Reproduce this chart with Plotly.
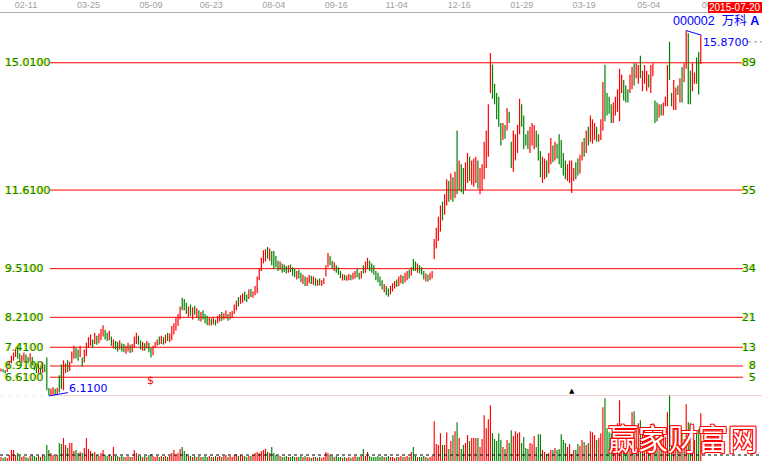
import plotly.graph_objects as go

# ---------------- data ----------------
tick_labels = ["02-11", "03-25", "05-09", "06-23", "08-04", "09-16",
               "11-04", "12-16", "01-29", "03-19", "05-04", "06-16"]
tick_index = [12, 42, 72, 101, 131, 161, 190, 220, 250, 280, 311, 342]

opens = [
    6.76, 6.82, 6.80, 6.75, 6.85, 6.98, 7.05, 7.15, 7.45, 7.25,
    7.00, 7.05, 7.22, 7.15, 7.02, 7.15, 7.00, 6.98, 6.70, 6.92,
    6.72, 6.95, 7.14, 6.32, 6.12, 6.14, 6.30, 6.15, 6.66, 6.95,
    6.26, 6.72, 7.06, 6.78, 6.98, 7.10, 7.40, 7.35, 7.15, 7.14,
    7.00, 7.18, 7.40, 7.45, 7.62, 7.50, 7.72, 7.52, 7.60, 7.70,
    7.88, 7.80, 7.60, 7.70, 7.38, 7.58, 7.55, 7.35, 7.52, 7.50,
    7.24, 7.30, 7.48, 7.28, 7.42, 7.50, 7.72, 7.59, 7.32, 7.52,
    7.38, 7.53, 7.40, 7.20, 7.40, 7.45, 7.70, 7.50, 7.68, 7.52,
    7.80, 7.55, 7.60, 7.75, 7.85, 7.98, 8.15, 8.73, 8.70, 8.60,
    8.22, 8.55, 8.15, 8.52, 8.20, 8.40, 8.10, 8.40, 8.30, 8.25,
    7.99, 8.18, 8.02, 8.15, 8.05, 8.10, 8.35, 8.15, 8.18, 8.30,
    8.15, 8.20, 8.30, 8.40, 8.75, 8.57, 8.60, 8.90, 8.82, 8.70,
    8.97, 8.73, 8.80, 8.85, 9.20, 9.45, 9.65, 9.70, 10.09, 9.72,
    9.98, 9.98, 9.85, 9.72, 9.48, 9.65, 9.62, 9.58, 9.40, 9.62,
    9.55, 9.50, 9.22, 9.48, 9.40, 9.10, 9.30, 9.05, 9.12, 9.32,
    9.08, 9.26, 9.05, 9.25, 9.05, 9.10, 9.30, 9.55, 9.85, 9.72,
    9.45, 9.60, 9.55, 9.45, 9.19, 9.35, 9.19, 9.20, 9.35, 9.22,
    9.25, 9.50, 9.40, 9.25, 9.60, 9.40, 9.50, 9.72, 9.65, 9.60,
    9.45, 9.40, 9.30, 9.20, 8.88, 9.05, 8.98, 8.82, 8.90, 8.98,
    9.22, 9.05, 9.12, 9.32, 9.15, 9.20, 9.48, 9.32, 9.77, 9.70,
    9.40, 9.60, 9.55, 9.45, 9.17, 9.35, 9.20, 9.25, 9.77, 10.05,
    10.25, 10.50, 11.30, 10.95, 11.20, 11.85, 11.35, 11.95, 11.40, 13.20,
    11.60, 12.30, 12.20, 11.60, 11.80, 12.50, 11.75, 11.70, 11.80, 12.40,
    11.50, 11.60, 11.90, 12.20, 12.50, 14.20, 14.96, 14.45, 14.20, 14.10,
    13.40, 12.95, 13.35, 13.20, 13.70, 12.90, 12.10, 12.40, 12.60, 13.10,
    13.90, 13.60, 13.10, 13.20, 12.60, 12.80, 12.70, 13.20, 13.10, 12.65,
    11.80, 11.90, 12.40, 12.05, 12.30, 12.80, 12.40, 12.85, 13.10, 12.95,
    12.60, 12.40, 11.85, 11.80, 11.53, 11.85, 12.35, 12.45, 12.05, 12.40,
    13.00, 12.60, 13.30, 12.90, 12.85, 12.95, 13.30, 12.90, 12.95, 13.20,
    14.96, 14.20, 14.10, 13.90, 13.40, 13.60, 13.70, 13.45, 14.20, 14.55,
    14.40, 14.30, 14.20, 14.30, 15.00, 14.60, 14.45, 15.20, 14.25, 14.45,
    14.25, 14.70, 14.20, 14.65, 14.00, 13.95, 13.55, 13.90, 13.60, 13.85,
    13.85, 15.57, 14.20, 13.75, 13.75, 14.40, 13.95, 14.90, 14.50, 14.85,
    15.80, 14.80, 14.25, 14.45, 15.15, 15.30, 14.98,
]

closes = [
    6.84, 6.74, 6.71, 6.86, 7.05, 7.18, 7.27, 7.40, 7.10, 6.98,
    7.20, 7.27, 6.98, 6.98, 7.25, 6.92, 6.80, 6.72, 6.95, 6.68,
    7.00, 6.75, 6.26, 6.11, 6.30, 6.34, 6.13, 6.33, 6.20, 6.30,
    7.06, 6.98, 6.75, 7.02, 7.30, 7.45, 7.12, 7.05, 7.45, 6.90,
    7.35, 7.53, 7.68, 7.75, 7.40, 7.80, 7.48, 7.78, 7.90, 8.00,
    7.62, 7.58, 7.85, 7.45, 7.62, 7.35, 7.30, 7.60, 7.30, 7.28,
    7.45, 7.53, 7.26, 7.50, 7.70, 7.80, 7.48, 7.35, 7.55, 7.32,
    7.58, 7.28, 7.14, 7.45, 7.55, 7.62, 7.48, 7.72, 7.48, 7.75,
    7.58, 7.78, 7.98, 8.05, 8.20, 8.30, 8.50, 8.40, 8.40, 8.30,
    8.50, 8.25, 8.48, 8.28, 8.45, 8.12, 8.35, 8.15, 8.05, 8.00,
    8.20, 8.00, 8.22, 7.99, 8.25, 8.30, 8.12, 8.32, 8.39, 8.12,
    8.35, 8.38, 8.55, 8.65, 8.50, 8.80, 8.85, 8.65, 8.62, 8.95,
    8.75, 8.90, 9.05, 9.30, 9.50, 9.80, 10.00, 10.03, 9.78, 10.05,
    9.60, 9.50, 9.55, 9.45, 9.70, 9.40, 9.42, 9.38, 9.60, 9.42,
    9.32, 9.28, 9.45, 9.25, 9.15, 9.35, 9.05, 9.28, 9.35, 9.10,
    9.30, 9.05, 9.22, 9.07, 9.20, 9.26, 9.60, 9.93, 9.60, 9.50,
    9.68, 9.40, 9.35, 9.25, 9.37, 9.20, 9.33, 9.37, 9.20, 9.40,
    9.45, 9.28, 9.22, 9.45, 9.38, 9.70, 9.80, 9.45, 9.40, 9.35,
    9.20, 9.15, 9.05, 8.95, 9.10, 8.80, 8.76, 9.05, 9.12, 9.18,
    9.02, 9.30, 9.35, 9.10, 9.40, 9.45, 9.25, 9.55, 9.45, 9.45,
    9.65, 9.38, 9.35, 9.22, 9.38, 9.17, 9.40, 9.45, 10.30, 10.60,
    10.90, 11.20, 10.80, 11.50, 11.90, 11.30, 12.05, 11.30, 12.10, 11.50,
    12.40, 11.55, 11.50, 12.35, 12.60, 11.85, 12.40, 12.45, 12.50, 11.65,
    12.20, 12.30, 12.90, 13.20, 13.90, 15.27, 14.05, 13.90, 13.50, 13.30,
    12.80, 13.40, 12.98, 13.80, 13.40, 12.20, 13.20, 13.10, 13.35, 14.05,
    13.30, 12.70, 12.80, 12.70, 13.30, 13.40, 13.35, 12.75, 12.40, 11.95,
    12.50, 12.45, 11.95, 12.60, 13.00, 12.35, 12.90, 12.45, 12.30, 12.20,
    12.00, 11.90, 12.30, 12.40, 12.40, 12.20, 11.90, 12.00, 12.55, 12.90,
    12.50, 13.20, 12.80, 13.60, 13.50, 13.40, 12.90, 13.10, 13.50, 14.50,
    13.45, 13.60, 13.65, 13.40, 13.95, 14.10, 14.30, 14.85, 14.70, 14.00,
    13.95, 13.95, 14.70, 14.90, 14.40, 15.00, 14.95, 14.60, 14.80, 14.95,
    14.80, 14.35, 14.95, 15.00, 13.40, 13.45, 13.90, 13.60, 13.95, 14.10,
    14.95, 14.55, 13.85, 14.55, 14.35, 14.15, 14.60, 13.95, 15.00, 15.87,
    13.90, 13.90, 15.00, 14.75, 14.45, 14.16, 15.73,
]

volumes = [
    4, 3, 4, 3, 6, 11, 11, 6, 8, 5,
    4, 5, 4, 3, 5, 6, 5, 4, 5, 4,
    6, 5, 16, 11, 8, 6, 5, 6, 18, 17,
    23, 16, 13, 18, 18, 10, 11, 8, 9, 8,
    13, 23, 12, 10, 8, 9, 6, 5, 8, 11,
    6, 5, 6, 5, 14, 5, 5, 4, 5, 4,
    4, 5, 4, 4, 11, 8, 5, 5, 4, 5,
    4, 6, 7, 5, 4, 5, 4, 5, 4, 5,
    4, 5, 8, 11, 6, 8, 12, 14, 10, 7,
    5, 5, 4, 5, 4, 5, 4, 4, 5, 4,
    5, 4, 4, 5, 4, 5, 4, 5, 6, 4,
    5, 4, 6, 7, 5, 6, 5, 5, 4, 5,
    5, 6, 8, 9, 8, 10, 11, 12, 9, 8,
    14, 8, 6, 5, 5, 4, 4, 5, 4, 4,
    5, 4, 4, 4, 5, 4, 5, 4, 4, 3,
    4, 4, 3, 4, 3, 4, 9, 8, 6, 5,
    4, 5, 4, 4, 3, 4, 3, 4, 3, 4,
    5, 4, 4, 5, 12, 5, 9, 5, 4, 4,
    4, 5, 4, 5, 4, 4, 5, 4, 4, 3,
    4, 4, 5, 4, 4, 5, 4, 9, 14, 5,
    4, 4, 4, 5, 4, 3, 4, 5, 40, 17,
    16, 28, 16, 16, 29, 12, 20, 26, 30, 39,
    23, 12, 16, 18, 26, 20, 23, 23, 23, 23,
    14, 22, 46, 33, 42, 56, 28, 22, 20, 28,
    21, 14, 12, 21, 18, 31, 25, 30, 28, 29,
    18, 24, 13, 12, 18, 17, 25, 14, 27, 27,
    11, 9, 7, 8, 11, 11, 13, 11, 12, 27,
    21, 18, 14, 17, 7, 11, 11, 17, 15, 21,
    19, 16, 18, 30, 29, 26, 21, 23, 28, 54,
    63, 33, 29, 28, 33, 31, 38, 61, 28, 16,
    19, 31, 31, 49, 50, 32, 38, 41, 26, 32,
    28, 23, 28, 38, 28, 23, 19, 26, 29, 24,
    49, 66, 24, 19, 29, 24, 31, 28, 22, 57,
    39, 38, 24, 21, 31, 32, 48,
]

fib_base = 6.11
fib_levels = [15.01, 11.61, 9.51, 8.21, 7.41, 6.91, 6.61]
fib_numbers = [89, 55, 34, 21, 13, 8, 5]
vol_grid = [16, 32, 48, 66]
vol_ref = 6
stock_code = "000002"
stock_name = "万科"
stock_class = "A"
current_date = "2015-07-20"
dollar_index = 72
marker_index = 274
watermark = "赢家财富网"

# ---------------- layout helpers ----------------
W, H, TOP = 762, 462, 11
X0, X1 = -0.48, 365.4
P0, P1 = 4.345, 16.34


def px(xp):
    return xp / W


def py(yp):
    return (H - yp) / (H - TOP)


n = min(len(opens), len(closes), len(volumes))
xs = list(range(n))
opens, closes, volumes = opens[:n], closes[:n], volumes[:n]
highs = [max(o, c) for o, c in zip(opens, closes)]
lows = [min(o, c) for o, c in zip(opens, closes)]
RED, GREEN, BLUE = "#ff0000", "#008000", "#0000ff"
vol_colors = [RED if c >= o else GREEN for o, c in zip(opens, closes)]

fig = go.Figure()
fig.add_trace(go.Ohlc(
    x=xs, open=opens, high=highs, low=lows, close=closes,
    increasing=dict(line=dict(color=RED, width=1.2)),
    decreasing=dict(line=dict(color=GREEN, width=1.2)),
    tickwidth=0, hoverinfo="skip", showlegend=False))
fig.add_trace(go.Bar(
    x=xs, y=volumes, width=0.55, yaxis="y2",
    marker=dict(color=vol_colors, line=dict(width=0)),
    hoverinfo="skip", showlegend=False))

shapes = []
for v in vol_grid:
    shapes.append(dict(type="line", xref="paper", yref="y2", x0=0, x1=1, y0=v, y1=v,
                       line=dict(color="#b0b0b0", width=1, dash="4px,4px"), layer="below"))
shapes.append(dict(type="line", xref="paper", yref="y2", x0=0, x1=1, y0=0, y1=0,
                   line=dict(color="#c0c0c0", width=1), layer="below"))
for lvl in fib_levels:
    shapes.append(dict(type="line", xref="paper", yref="y", x0=px(50), x1=px(743),
                       y0=lvl, y1=lvl, line=dict(color=RED, width=1), layer="below"))
shapes.append(dict(type="line", xref="paper", yref="y", x0=px(48), x1=1,
                   y0=fib_base, y1=fib_base, line=dict(color=RED, width=1), layer="below"))
shapes.append(dict(type="line", xref="paper", yref="y2", x0=0, x1=1, y0=vol_ref, y1=vol_ref,
                   line=dict(color="#000000", width=1, dash="3px,3px"), layer="above"))
shapes.append(dict(type="line", xref="paper", yref="paper", x0=px(748), x1=1,
                   y0=py(40), y1=py(40), line=dict(color="#909090", width=1, dash="dot")))
shapes.append(dict(type="rect", xref="paper", yref="paper", x0=px(708), x1=1,
                   y0=1, y1=py(0), fillcolor=RED, line=dict(width=0), layer="above"))

lab_font = dict(family="DejaVu Sans, Verdana", size=11, color=GREEN,
                shadow="-1px 0px 0px #e0e000")
ann = []
for lvl, num in zip(fib_levels, fib_numbers):
    ann.append(dict(x=px(3), xref="paper", xanchor="left", y=lvl, yref="y", yanchor="middle",
                    text=f"{lvl:.4f}", showarrow=False, font=lab_font))
    ann.append(dict(x=px(758), xref="paper", xanchor="right", y=lvl, yref="y", yanchor="middle",
                    text=str(num), showarrow=False, font=lab_font))

i_min = lows.index(min(lows))
i_max = highs.index(max(highs))
mark_font = dict(family="DejaVu Sans, Verdana", size=11, color=BLUE)
ann.append(dict(x=i_min, y=lows[i_min], xref="x", yref="y", text=f"{lows[i_min]:.4f}",
                showarrow=True, arrowhead=0, arrowwidth=1, arrowcolor=BLUE, ax=40, ay=-7,
                standoff=0, font=mark_font))
ann.append(dict(x=i_max, y=highs[i_max], xref="x", yref="y", text=f"{highs[i_max]:.4f}",
                showarrow=True, arrowhead=0, arrowwidth=1, arrowcolor=BLUE, ax=40, ay=12,
                standoff=0, font=mark_font))
ann.append(dict(x=dollar_index, xref="x", xanchor="center", y=py(389), yref="paper",
                text="$", showarrow=False,
                font=dict(family="DejaVu Sans", size=11, color=RED)))
ann.append(dict(x=marker_index, xref="x", xanchor="center", y=py(397), yref="paper",
                text="▲", showarrow=False,
                font=dict(family="DejaVu Sans", size=7, color="#000000")))
ann.append(dict(x=px(761), xref="paper", xanchor="right", y=py(19), yref="paper", yanchor="middle",
                text=f"{stock_code}  {stock_name} <b>{stock_class}</b>", showarrow=False,
                font=dict(family="Liberation Sans, Noto Sans CJK SC", size=12.5, color=BLUE)))
ann.append(dict(x=px(735), xref="paper", xanchor="center", y=py(5.5), yref="paper",
                yanchor="middle", text=current_date, showarrow=False,
                font=dict(family="Liberation Sans, Arial", size=10, color="#ffffff")))
ann.append(dict(x=px(683), xref="paper", xanchor="center", y=py(437), yref="paper",
                yanchor="middle", text=watermark, showarrow=False,
                font=dict(family="Noto Sans CJK SC", size=30, color="#ffffff",
                          shadow="1px 1px 0 #ff0000, -1px -1px 0 #ff0000, 1px -1px 0 #ff0000, -1px 1px 0 #ff0000")))

fig.update_layout(
    width=W, height=H, margin=dict(l=0, r=0, t=TOP, b=0, pad=0),
    paper_bgcolor="white", plot_bgcolor="white", showlegend=False,
    xaxis=dict(range=[X0, X1], side="top", tickmode="array", tickvals=tick_index,
               ticktext=tick_labels, showgrid=False, zeroline=False, showline=True,
               linecolor="#b4b4b4", linewidth=1, ticks="",
               tickfont=dict(family="Liberation Sans Narrow, Liberation Sans, Arial",
                             size=9, color="#a0a0a0"),
               rangeslider=dict(visible=False), fixedrange=True),
    yaxis=dict(domain=[0, 1], range=[P0, P1], visible=False, fixedrange=True),
    yaxis2=dict(domain=[py(461), py(395)], range=[0, 66], visible=False, anchor="x",
                fixedrange=True),
    shapes=shapes, annotations=ann,
)

fig.write_html("out.html", include_plotlyjs=True, full_html=True,
               config=dict(displayModeBar=False, staticPlot=True),
               post_script="document.body.style.margin='0';document.body.style.overflow='hidden';")
